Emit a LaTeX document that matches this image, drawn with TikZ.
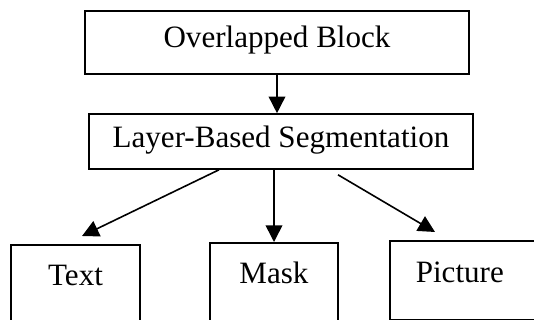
\documentclass[tikz,border=0pt]{standalone}
\usepackage{fontspec}
\setmainfont{Liberation Serif}
\usetikzlibrary{arrows.meta,positioning}
\tikzset{every picture/.style={
  >={Triangle[length=12.5pt,width=12.5pt]}   % Big filled heads.
  }
}

\begin{document}
\begin{tikzpicture}[
    x=0.75pt, y=-0.75pt,
    line width=1.2pt,
    blk/.style={
      draw,
      inner sep=0pt,
      font=\fontsize{23.3pt}{28pt}\selectfont,
      text centered
    },
    leaf/.style={
      blk,
      anchor=north,
      minimum width=#1,
      text height=30.75pt,
      text depth=60pt
    }]

    \useasboundingbox (0,0) rectangle (534,320);
    \clip (0,0) rectangle (534,320);

    % Top two blocks.
    \node[blk,minimum width=288pt,minimum height=47.25pt,
      text height=0.7em,text depth=0pt] (ob) at (277,42.5)
      {Overlapped Block};
    \node[blk,minimum width=288pt,minimum height=41.25pt,
      text height=0.85em,text depth=0pt] (lbs) at (281,141.5)
      {Layer-Based Segmentation};

    % The three outputs, cut off by the page.
    \node[leaf=96.75pt] (txt) at (75.5,244) {Text};
    \node[leaf=96pt] (mask) at (274,242) {Mask};
    \node[blk,anchor=north west,inner xsep=19.5pt,text width=100pt,
      align=left,text height=31.5pt,text depth=27.6pt] (pic) at (389,240)
      {Picture};

    % Arrows.
    \draw[->] (ob.south) -- (ob.south |- lbs.north);
    \draw[->] ([xshift=-46.5pt] lbs.south) --
      ([xshift=4.9pt,yshift=6pt] txt.north);
    \draw[->] (mask.north |- lbs.south) -- (mask.north);
    \draw[->] ([xshift=42.75pt,yshift=-3.75pt] lbs.south) --
      ([xshift=34.5pt,yshift=6pt] pic.north west);
  \end{tikzpicture}
\end{document}
